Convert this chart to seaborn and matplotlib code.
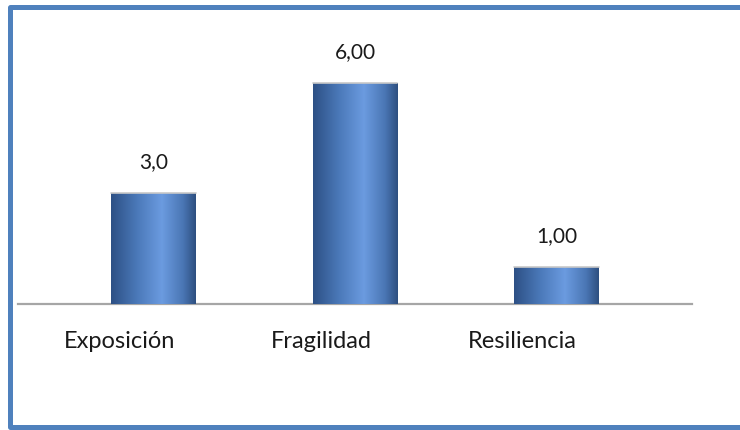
import numpy as np
import pandas as pd
import seaborn as sns
import matplotlib.pyplot as plt
from matplotlib.colors import LinearSegmentedColormap
from matplotlib.lines import Line2D
from matplotlib.transforms import ScaledTranslation

categorias = ['Exposición', 'Fragilidad', 'Resiliencia']
valores = [3.0, 6.0, 1.0]
etiquetas = ['3,0', '6,00', '1,00']

sns.set_style('white')
plt.rcParams['font.family'] = ['Lato', 'DejaVu Sans']

df = pd.DataFrame({'categoria': categorias, 'valor': valores})

fig = plt.figure(figsize=(7.4, 4.31), dpi=100)
ax = fig.add_axes([18 / 740, 1 - 305 / 431, 674 / 740, 258 / 431])

sns.barplot(data=df, x='categoria', y='valor', color='#4f81bd', width=0.42,
            saturation=1, ax=ax)
ax.set_xlim(-0.672, 2.672)
ax.set_ylim(0, 7.0)

# sombreado cilindrico de las barras
cmap = LinearSegmentedColormap.from_list(
    'cil', [(0, '#2d5085'), (0.3, '#4a78b8'), (0.6, '#6b9be0'), (0.85, '#4a76b4'), (1, '#2e4f80')])
grad = np.linspace(0, 1, 256).reshape(1, -1)
for bar in ax.patches:
    x0, y0 = bar.get_x(), bar.get_y()
    w, h = bar.get_width(), bar.get_height()
    im = ax.imshow(grad, cmap=cmap, aspect='auto', extent=[x0, x0 + w, y0, y0 + h], zorder=3)
    im.set_clip_path(bar)
    ax.plot([x0, x0 + w], [y0 + h, y0 + h], color='#c8c8c8', lw=1.2, zorder=4)

for bar, txt in zip(ax.patches, etiquetas):
    ax.annotate(txt, (bar.get_x() + bar.get_width() / 2, bar.get_height()),
                xytext=(0, 16), textcoords='offset points', ha='center', va='bottom',
                fontsize=15, color='#1a1a1a')

ax.set_xlabel('')
ax.set_ylabel('')
ax.set_yticks([])
ax.tick_params(axis='x', length=0, pad=19, labelsize=17, labelcolor='#1a1a1a')
offset = ScaledTranslation(-34 / 100, 0, fig.dpi_scale_trans)
for lbl in ax.get_xticklabels():
    lbl.set_transform(lbl.get_transform() + offset)
for s in ['top', 'right', 'left']:
    ax.spines[s].set_visible(False)
ax.spines['bottom'].set_color('#a6a6a6')
ax.spines['bottom'].set_linewidth(1.6)
ax.set_xlim(-0.672, 2.672)

# marco azul del grafico (el borde derecho queda fuera de la imagen)
x_izq, y_inf, y_sup = 9.5 / 740, 3.5 / 431, 1 - 7.5 / 431
fig.lines.append(Line2D([1.05, x_izq, x_izq, 1.05], [y_sup, y_sup, y_inf, y_inf],
                        transform=fig.transFigure, color='#4f81bd', lw=3.6,
                        solid_joinstyle='round', zorder=10))

fig.savefig('out.png', dpi=100, facecolor='white')
